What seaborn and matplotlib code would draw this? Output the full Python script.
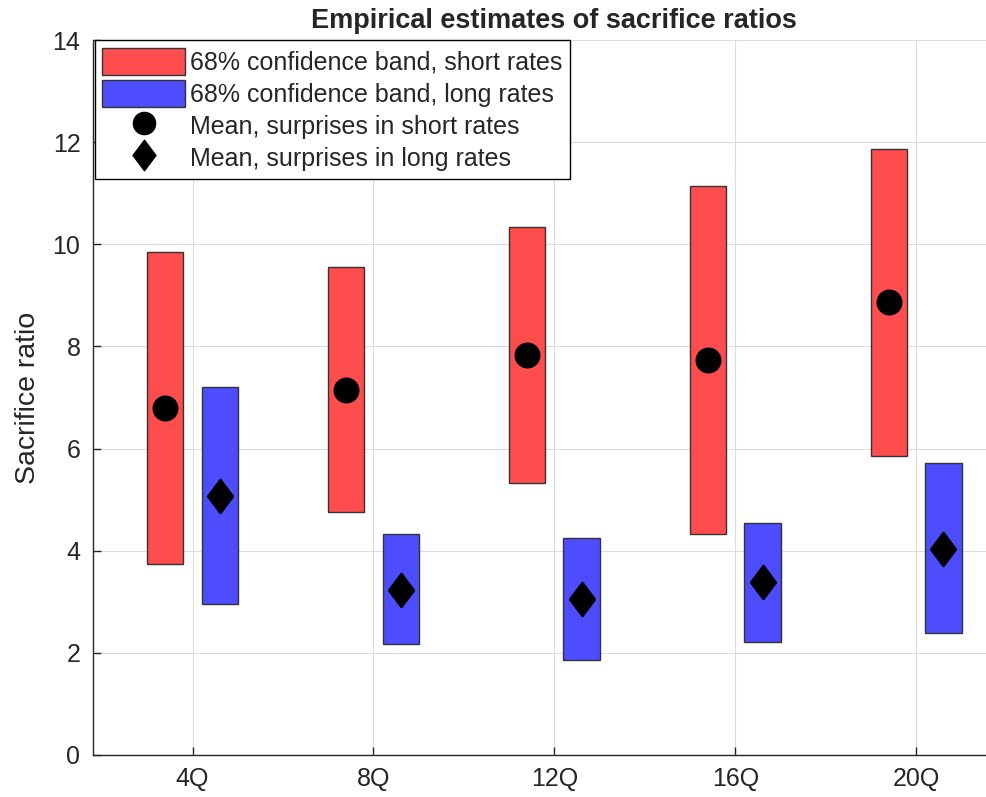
import numpy as np
import pandas as pd
import matplotlib
matplotlib.use("Agg")
import matplotlib.pyplot as plt
from matplotlib.path import Path
from matplotlib.patches import Patch
from matplotlib.lines import Line2D
import seaborn as sns

horizons = ["4Q", "8Q", "12Q", "16Q", "20Q"]
short_low = [3.75, 4.75, 5.33, 4.33, 5.86]
short_high = [9.85, 9.55, 10.34, 11.14, 11.87]
short_mean = [6.80, 7.14, 7.84, 7.73, 8.87]
long_low = [2.96, 2.18, 1.86, 2.22, 2.38]
long_high = [7.20, 4.32, 4.24, 4.55, 5.72]
long_mean = [5.08, 3.24, 3.05, 3.39, 4.04]

sns.set_style("white")
plt.rcParams['font.family'] = ['Liberation Sans', 'DejaVu Sans']

red = (1.0, 0.30, 0.30)
blue = (0.30, 0.30, 1.0)
edge = (0.2, 0.2, 0.2)

fig = plt.figure(figsize=(9.86, 7.97), dpi=100)
ax = fig.add_axes([0.0943, 0.0527, 0.936, 0.897])

pos = np.arange(1, len(horizons) + 1)
off = 0.15
w = 0.2

ax.bar(pos - off, np.array(short_high) - np.array(short_low), bottom=short_low,
       width=w, color=red, edgecolor=edge, linewidth=1.0, zorder=2)
ax.bar(pos + off, np.array(long_high) - np.array(long_low), bottom=long_low,
       width=w, color=blue, edgecolor=edge, linewidth=1.0, zorder=2)

df_s = pd.DataFrame({"x": pos - off, "y": short_mean})
df_l = pd.DataFrame({"x": pos + off, "y": long_mean})
diamond = Path([(0, 1), (0.75, 0), (0, -1), (-0.75, 0), (0, 1)],
               [Path.MOVETO, Path.LINETO, Path.LINETO, Path.LINETO, Path.CLOSEPOLY])
sns.scatterplot(data=df_s, x="x", y="y", ax=ax, marker="o", s=300,
                color="black", edgecolor="black", zorder=3, legend=False)
sns.scatterplot(data=df_l, x="x", y="y", ax=ax, marker=diamond, s=560,
                color="black", edgecolor="black", zorder=3, legend=False)

ax.set_xlim(0.45, 5.55)
ax.set_ylim(0, 14)
ax.set_xticks(pos)
ax.set_xticklabels(horizons)
ax.set_yticks(np.arange(0, 15, 2))
ax.set_xlabel("")
ax.set_ylabel("Sacrifice ratio", fontsize=20.5, color="#262626", labelpad=8)
ax.set_title("Empirical estimates of sacrifice ratios", fontsize=19.5,
             fontweight="bold", pad=9)

ax.grid(True, color="#dcdcdc", linewidth=0.8, zorder=0)
ax.set_axisbelow(True)
for s in ["top", "right"]:
    ax.spines[s].set_visible(False)
for s in ["left", "bottom"]:
    ax.spines[s].set_color("#262626")
    ax.spines[s].set_linewidth(1.0)
ax.tick_params(direction="in", length=6, width=1, colors="#262626",
               labelsize=18, left=True, bottom=True, pad=9)

handles = [
    Patch(facecolor=red, edgecolor=edge, label="68% confidence band, short rates"),
    Patch(facecolor=blue, edgecolor=edge, label="68% confidence band, long rates"),
    Line2D([], [], linestyle="none", marker="o", markersize=16, color="black",
           label="Mean, surprises in short rates"),
    Line2D([], [], linestyle="none", marker=diamond, markersize=22, color="black",
           label="Mean, surprises in long rates"),
]
leg = ax.legend(handles=handles, loc="upper left", bbox_to_anchor=(0.002, 1.0),
                borderaxespad=0, fontsize=18, fancybox=False, framealpha=1,
                edgecolor="black", handlelength=3.3, handleheight=1.3,
                handletextpad=0.2, labelspacing=0.2, borderpad=0.3)
leg.get_frame().set_linewidth(1.0)

fig.savefig("out.png", dpi=100)
